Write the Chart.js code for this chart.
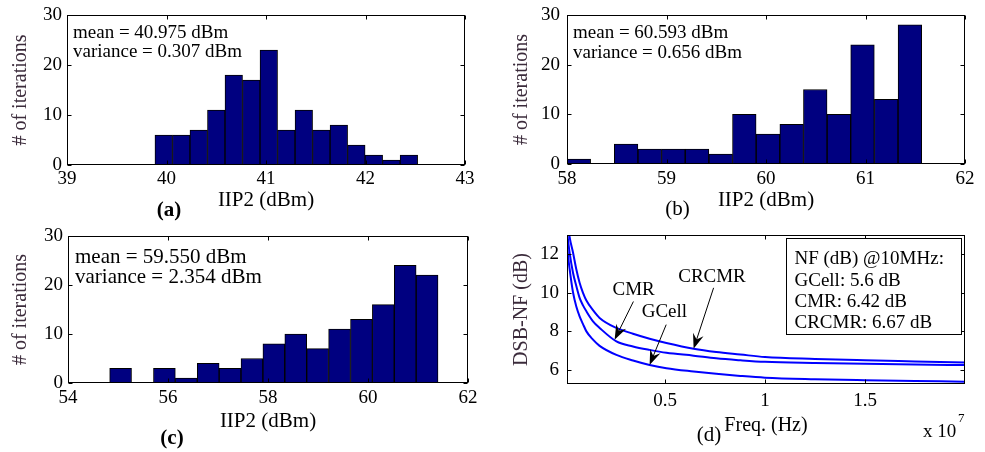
<!DOCTYPE html>
<html>
<head>
<meta charset="utf-8">
<title>IIP2 histograms and DSB-NF</title>
<script src="https://cdn.jsdelivr.net/npm/chart.js@4.4.1/dist/chart.umd.min.js"></script>
<style>
  html, body { margin: 0; padding: 0; background: #fff; }
  body { position: relative; width: 985px; height: 452px; overflow: hidden; }
  canvas { position: absolute; }
</style>
</head>
<body>
<canvas id="chartA" width="490" height="222" style="left:0;top:0"></canvas>
<canvas id="chartB" width="495" height="222" style="left:490px;top:0"></canvas>
<canvas id="chartC" width="490" height="237" style="left:0;top:215px"></canvas>
<canvas id="chartD" width="495" height="237" style="left:490px;top:215px"></canvas>
<script>
const SERIF = '"Liberation Serif", "Times New Roman", serif';

// (a) IIP2 histogram - bin centres (dBm) and counts
const binsA = [39.972, 40.148, 40.324, 40.500, 40.676, 40.852, 41.028, 41.204, 41.380, 41.556, 41.732, 41.908, 42.084, 42.260, 42.436];
const countsA = [6, 6, 7, 11, 18, 17, 23, 7, 11, 7, 8, 4, 2, 1, 2];
const ticksA = [39, 40, 41, 42, 43];

// (b)
const binsB = [58.119, 58.356, 58.594, 58.832, 59.069, 59.307, 59.545, 59.782, 60.020, 60.258, 60.495, 60.733, 60.970, 61.208, 61.446];
const countsB = [1, 0, 4, 3, 3, 3, 2, 10, 6, 8, 15, 10, 24, 13, 28];
const ticksB = [58, 59, 60, 61, 62];

// (c)
const binsC = [55.052, 55.490, 55.928, 56.366, 56.804, 57.241, 57.679, 58.117, 58.555, 58.993, 59.431, 59.869, 60.306, 60.744, 61.182];
const countsC = [3, 0, 3, 1, 4, 3, 5, 8, 10, 7, 11, 13, 16, 24, 22];
const ticksC = [54, 56, 58, 60, 62];

const countTicks = [0, 10, 20, 30];

// (d) DSB noise figure vs frequency
const freqHz = [1e5, 2.3e5, 4e5, 5.65e5, 7.3e5, 9e5, 1.07e6, 1.4e6, 1.73e6, 2.57e6, 3.4e6, 4.23e6, 5.07e6, 6.43e6, 7.56e6, 8.77e6, 1e7, 1.25e7, 1.5e7, 1.75e7, 2e7];
const nfCRCMR = [14.0, 12.9, 12.09, 11.22, 10.52, 10.0, 9.6, 9.1, 8.7, 8.18, 7.88, 7.62, 7.4, 7.1, 6.93, 6.8, 6.67, 6.57, 6.5, 6.44, 6.38];
const nfCMR = [13.2, 12.08, 11.04, 10.35, 9.74, 9.35, 9.04, 8.52, 8.18, 7.48, 7.22, 7.04, 6.89, 6.74, 6.6, 6.5, 6.42, 6.36, 6.32, 6.28, 6.25];
const nfGCell = [12.4, 11.24, 10.03, 9.29, 8.78, 8.38, 8.0, 7.57, 7.25, 6.78, 6.49, 6.26, 6.09, 5.92, 5.8, 5.69, 5.6, 5.52, 5.47, 5.43, 5.39];
const freqTicks = [0.5e7, 1e7, 1.5e7];
const nfTicks = [6, 8, 10, 12];
const nfAt10MHz = ['NF (dB) @10MHz:', 'GCell: 5.6 dB', 'CMR: 6.42 dB', 'CRCMR: 6.67 dB'];

function drawText(ctx, s, x, y, size, opt) {
  opt = opt || {};
  ctx.font = (opt.bold ? 'bold ' : '') + size + 'px ' + SERIF;
  ctx.fillStyle = opt.color || '#000';
  ctx.textAlign = opt.align || 'left';
  ctx.textBaseline = 'middle';
  ctx.fillText(s, x, y);
}

function drawArrow(ctx, x1, y1, x2, y2) {
  const a = Math.atan2(y2 - y1, x2 - x1);
  const c = Math.cos(a), s = Math.sin(a);
  const len = 15, half = 5.5;
  ctx.beginPath();
  ctx.moveTo(x1, y1);
  ctx.lineTo(x2 - len * 0.6 * c, y2 - len * 0.6 * s);
  ctx.stroke();
  ctx.beginPath();
  ctx.moveTo(x2, y2);
  ctx.lineTo(x2 - len * c + half * s, y2 - len * s - half * c);
  ctx.lineTo(x2 - len * 0.65 * c, y2 - len * 0.65 * s);
  ctx.lineTo(x2 - len * c - half * s, y2 - len * s + half * c);
  ctx.closePath();
  ctx.fill();
}

// matlab-like box with inward ticks + the free texts of each panel
const frame = {
  id: 'frame',
  afterDatasetsDraw(chart, args, opts) {
    const { ctx, chartArea: area } = chart;
    const xs = chart.scales.x, ys = chart.scales.y;
    const L = Math.round(area.left) + 0.5, R = Math.round(area.right) - 0.5;
    const T = Math.round(area.top) + 0.5, B = Math.round(area.bottom) - 0.5;
    ctx.save();
    ctx.strokeStyle = '#000';
    ctx.lineWidth = 1;
    ctx.beginPath();
    xs.ticks.forEach(t => {
      const px = Math.round(xs.getPixelForValue(t.value)) + 0.5;
      ctx.moveTo(px, B); ctx.lineTo(px, B - 4);
      ctx.moveTo(px, T); ctx.lineTo(px, T + 4);
    });
    ys.ticks.forEach(t => {
      const py = Math.round(ys.getPixelForValue(t.value)) + 0.5;
      ctx.moveTo(L, py); ctx.lineTo(L + 4, py);
      ctx.moveTo(R, py); ctx.lineTo(R - 4, py);
    });
    ctx.stroke();
    ctx.strokeRect(L, T, R - L, B - T);

    const ox = opts.origin.left, oy = opts.origin.top;
    (opts.notes || []).forEach(n => {
      drawText(ctx, n.text, n.x - ox, n.y - oy, n.size, n);
    });
    (opts.arrows || []).forEach(n => {
      drawText(ctx, n.text, xs.getPixelForValue(n.lx), ys.getPixelForValue(n.ly), 19, { align: 'center' });
      ctx.fillStyle = '#000';
      drawArrow(ctx, xs.getPixelForValue(n.x1), ys.getPixelForValue(n.y1),
        xs.getPixelForValue(n.x2), ys.getPixelForValue(n.y2));
    });
    if (opts.box) {
      const b = opts.box;
      const bx = Math.round(area.right - b.right - b.width) + 0.5;
      const by = Math.round(area.top + b.top) + 0.5;
      ctx.fillStyle = '#fff';
      ctx.fillRect(bx, by, b.width, b.height);
      ctx.strokeRect(bx, by, b.width, b.height);
      b.lines.forEach((s, i) => drawText(ctx, s, bx + 8, by + 21 + i * 21.3, 19));
    }
    ctx.restore();
  }
};

function axes(cfg) {
  return {
    x: {
      type: 'linear', min: cfg.xMin, max: cfg.xMax, offset: false,
      grid: { display: false, drawTicks: false }, border: { display: false },
      afterBuildTicks: s => { s.ticks = cfg.xTicks.map(v => ({ value: v })); },
      afterFit: s => { s.height = cfg.xAxis; s.paddingLeft = 0; s.paddingRight = 0; },
      ticks: { color: '#000', font: { family: SERIF, size: 19 }, padding: cfg.xTickPad, maxRotation: 0, autoSkip: false,
        callback: cfg.xFormat || (v => String(v)) },
      title: { display: true, text: cfg.xTitle, color: '#000', font: { family: SERIF, size: cfg.xTitleSize },
        padding: { top: 0, bottom: cfg.xTitlePad } }
    },
    y: {
      type: 'linear', min: cfg.yMin, max: cfg.yMax,
      grid: { display: false, drawTicks: false }, border: { display: false },
      afterBuildTicks: s => { s.ticks = cfg.yTicks.map(v => ({ value: v })); },
      afterFit: s => { s.width = cfg.yAxis; s.paddingTop = 0; s.paddingBottom = 0; },
      ticks: { color: '#000', font: { family: SERIF, size: 19 }, padding: cfg.yTickPad, autoSkip: false, callback: v => String(v) },
      title: { display: true, text: cfg.yTitle, color: '#3b2b3b', font: { family: SERIF, size: 20 },
        padding: { top: cfg.yTitlePad, bottom: 0 } }
    }
  };
}

function histogram(id, origin, bins, counts, cfg, notes) {
  return new Chart(document.getElementById(id), {
    type: 'bar',
    data: {
      datasets: [{
        data: bins.map((b, i) => ({ x: b, y: counts[i] })),
        backgroundColor: '#000080',
        borderColor: '#000',
        borderWidth: 1,
        barPercentage: 1,
        categoryPercentage: 1
      }]
    },
    options: {
      responsive: false,
      animation: false,
      layout: { padding: { left: 0, top: cfg.padTop, right: cfg.padRight, bottom: 0 } },
      plugins: {
        legend: { display: false },
        tooltip: { enabled: false },
        frame: { origin: origin, notes: notes }
      },
      scales: axes(Object.assign({
        yMin: 0, yMax: 30, yTicks: countTicks, xTitle: 'IIP2 (dBm)', xTitleSize: 21, yTitle: '# of iterations'
      }, cfg))
    },
    plugins: [frame]
  });
}

histogram('chartA', { left: 0, top: 0 }, binsA, countsA,
  { xMin: 39, xMax: 43, xTicks: ticksA, padTop: 15, padRight: 25, yAxis: 67, xAxis: 57,
    xTickPad: 3, xTitlePad: 9, yTickPad: 5, yTitlePad: 9 },
  [
    { text: 'mean = 40.975 dBm', x: 73, y: 33.5, size: 19 },
    { text: 'variance = 0.307 dBm', x: 73, y: 52, size: 19 },
    { text: '(a)', x: 169, y: 211, size: 21, bold: true, align: 'center' }
  ]);

histogram('chartB', { left: 490, top: 0 }, binsB, countsB,
  { xMin: 58, xMax: 62, xTicks: ticksB, padTop: 15, padRight: 20, yAxis: 77, xAxis: 58,
    xTickPad: 3.5, xTitlePad: 9, yTickPad: 7, yTitlePad: 20 },
  [
    { text: 'mean = 60.593 dBm', x: 573, y: 33.5, size: 19 },
    { text: 'variance = 0.656 dBm', x: 573, y: 53, size: 19 },
    { text: '(b)', x: 677.5, y: 209, size: 21, align: 'center' }
  ]);

histogram('chartC', { left: 0, top: 215 }, binsC, countsC,
  { xMin: 54, xMax: 62, xTicks: ticksC, padTop: 21, padRight: 22, yAxis: 68, xAxis: 69,
    xTickPad: 4, xTitlePad: 17.5, yTickPad: 5, yTitlePad: 9 },
  [
    { text: 'mean = 59.550 dBm', x: 75, y: 257.5, size: 21 },
    { text: 'variance = 2.354 dBm', x: 75, y: 277, size: 21 },
    { text: '(c)', x: 172, y: 439, size: 21, bold: true, align: 'center' }
  ]);

const series = [nfGCell, nfCMR, nfCRCMR];
new Chart(document.getElementById('chartD'), {
  type: 'line',
  data: {
    datasets: series.map(nf => ({
      data: freqHz.map((f, i) => ({ x: f, y: nf[i] })),
      borderColor: '#0000ff',
      borderWidth: 2,
      pointRadius: 0,
      fill: false,
      cubicInterpolationMode: 'monotone'
    }))
  },
  options: {
    responsive: false,
    animation: false,
    layout: { padding: { left: 0, top: 20, right: 20, bottom: 0 } },
    plugins: {
      legend: { display: false },
      tooltip: { enabled: false },
      frame: {
        origin: { left: 490, top: 215 },
        notes: [
          { text: '(d)', x: 709, y: 435, size: 21, align: 'center' },
          { text: 'x 10', x: 923, y: 432, size: 19 },
          { text: '7', x: 958, y: 419, size: 13 }
        ],
        arrows: [
          { text: 'CMR', lx: 0.343e7, ly: 10.17, x1: 0.342e7, y1: 9.55, x2: 0.248e7, y2: 7.57 },
          { text: 'GCell', lx: 0.497e7, ly: 9.0, x1: 0.506e7, y1: 8.35, x2: 0.423e7, y2: 6.26 },
          { text: 'CRCMR', lx: 0.735e7, ly: 10.83, x1: 0.743e7, y1: 10.26, x2: 0.643e7, y2: 7.1 }
        ],
        box: { right: 4, top: 3, width: 175, height: 96, lines: nfAt10MHz }
      }
    },
    scales: axes({
      xMin: 1e5, xMax: 2e7, xTicks: freqTicks, xFormat: v => String(v / 1e7),
      yMin: 5.27, yMax: 13, yTicks: nfTicks,
      xTitle: 'Freq. (Hz)', xTitleSize: 20, yTitle: 'DSB-NF (dB)',
      yAxis: 77, xAxis: 68, xTickPad: 5.5, xTitlePad: 14, yTickPad: 8, yTitlePad: 20
    })
  },
  plugins: [frame]
});
</script>
</body>
</html>
